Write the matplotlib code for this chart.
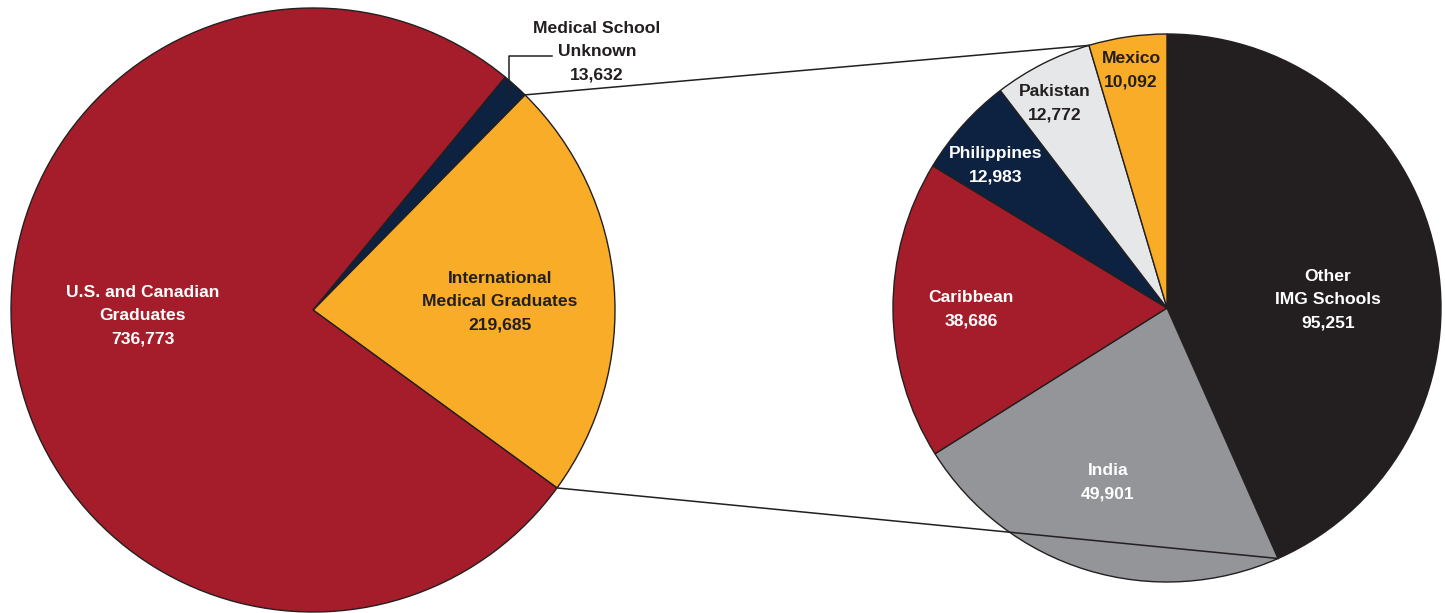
import numpy as np
import matplotlib.pyplot as plt

# left pie: all physicians by medical school
left_labels = ["International\nMedical Graduates", "Medical School\nUnknown", "U.S. and Canadian\nGraduates"]
left_values = [219685, 13632, 736773]
left_colors = ["#F8AC28", "#0C2240", "#A51D2A"]

# right pie: IMG breakdown
right_labels = ["Other\nIMG Schools", "India", "Caribbean", "Philippines", "Pakistan", "Mexico"]
right_values = [95251, 49901, 38686, 12983, 12772, 10092]
right_colors = ["#231F20", "#939598", "#A51D2A", "#0C2240", "#E6E7E8", "#F8AC28"]
right_text = ["white", "white", "white", "white", "#231F20", "#231F20"]

W, H = 1445, 613
fig = plt.figure(figsize=(W / 100, H / 100), dpi=100)
ax = fig.add_axes([0, 0, 1, 1])

lc, lr = (313, H - 310), 302
rc, rr = (1167, H - 308), 274
start_left = -36.1

wp = dict(edgecolor="#231F20", linewidth=1.0)
ax.pie(left_values, colors=left_colors, center=lc, radius=lr, startangle=start_left,
       counterclock=True, wedgeprops=wp, frame=True)
ax.pie(right_values, colors=right_colors, center=rc, radius=rr, startangle=90,
       counterclock=False, wedgeprops=wp, frame=True)
ax.set_xlim(0, W)
ax.set_ylim(0, H)
ax.set_aspect("equal")
ax.axis("off")

# connector lines: IMG slice edges -> right pie (Mexico start / Other end)
img_end = start_left + 360 * left_values[0] / sum(left_values)
other_end = 90 - 360 * right_values[0] / sum(right_values)
mex_start = 90 + 360 * right_values[-1] / sum(right_values)

def pt(c, r, a):
    return c[0] + r * np.cos(np.radians(a)), c[1] + r * np.sin(np.radians(a))

for a1, a2 in [(img_end, mex_start), (start_left, other_end)]:
    x1, y1 = pt(lc, lr, a1)
    x2, y2 = pt(rc, rr, a2)
    ax.plot([x1, x2], [y1, y2], color="#231F20", lw=1.1)

# leader line for unknown slice
ax.plot([509, 509, 552], [H - 97, H - 56, H - 56], color="#231F20", lw=1.1)

fam = ["Liberation Sans", "DejaVu Sans"]
tk = dict(ha="center", va="center", fontsize=12.6, fontweight="bold", family=fam, linespacing=1.7)

def lab(x, y, name, v, c):
    ax.text(x, H - y, f"{name}\n{v:,}", color=c, **tk)

lab(500, 302, left_labels[0], left_values[0], "#231F20")
lab(597, 52, left_labels[1], left_values[1], "#231F20")
lab(143, 316, left_labels[2], left_values[2], "white")

rpos = [(1328, 300), (1108, 482), (971, 309), (996, 165), (1055, 103), (1131, 70)]
for (x, y), n, v, c in zip(rpos, right_labels, right_values, right_text):
    lab(x, y, n, v, c)

fig.savefig("out.png", dpi=100)
